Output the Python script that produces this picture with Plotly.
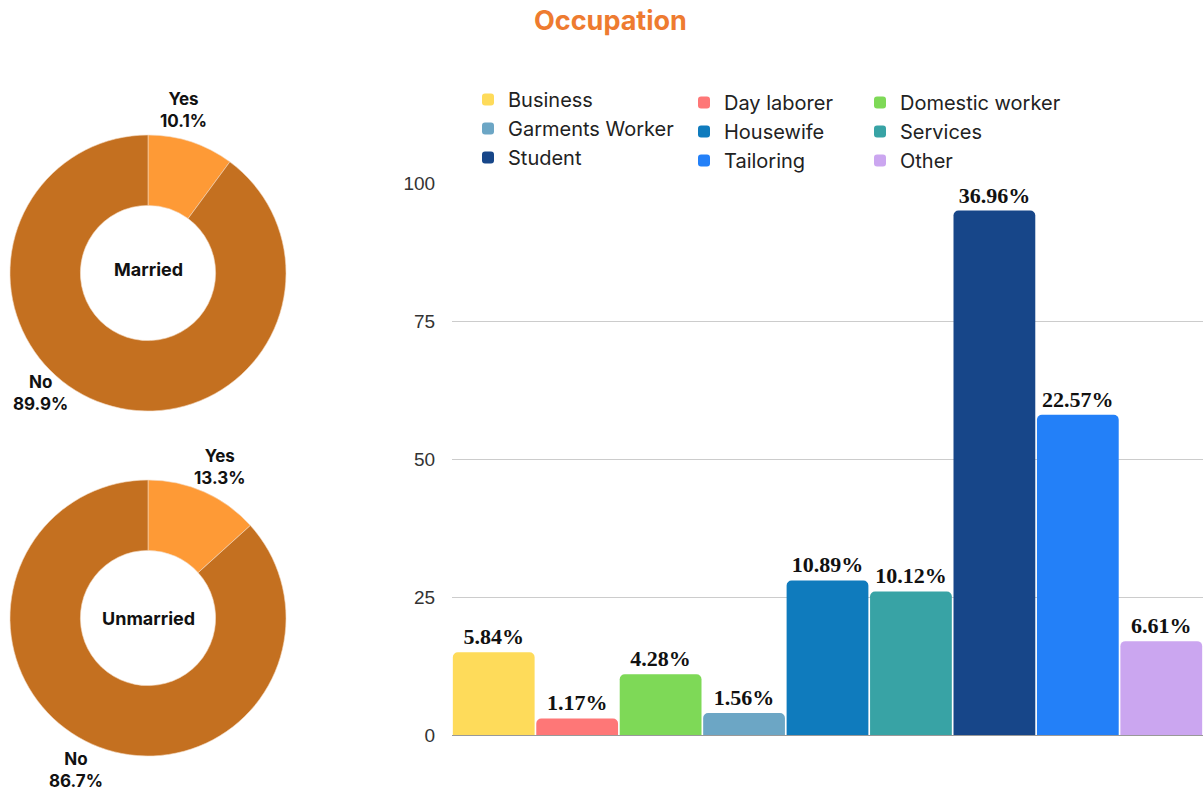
import plotly.graph_objects as go

# ---- data ----
occupations = ["Business", "Day laborer", "Domestic worker", "Garments Worker",
               "Housewife", "Services", "Student", "Tailoring", "Other"]
counts = [15, 3, 11, 4, 28, 26, 95, 58, 17]
percent_labels = ["5.84%", "1.17%", "4.28%", "1.56%", "10.89%", "10.12%",
                  "36.96%", "22.57%", "6.61%"]
bar_colors = ["#FEDB5A", "#FE7777", "#7ED957", "#6CA6C5", "#0F7BBD",
              "#38A3A5", "#174689", "#2380F8", "#CBA6F0"]
legend_column = ["legend", "legend2", "legend3", "legend", "legend2",
                 "legend3", "legend", "legend2", "legend3"]
y_ticks = [0, 25, 50, 75, 100]

pie_labels = ["Yes", "No"]
married_values = [10.1, 89.9]
unmarried_values = [13.3, 86.7]
pie_colors = ["#FE9A36", "#C47020"]

W, H = 1203, 792


def px_x(x):
    return x / W


def px_y(y):
    return 1 - y / H


fig = go.Figure()

for name, c, txt, col, lg in zip(occupations, counts, percent_labels, bar_colors, legend_column):
    fig.add_trace(go.Bar(
        x=[name], y=[c], name=name, legend=lg,
        marker=dict(color=col, cornerradius=5, line=dict(width=0)),
        text=[txt], textposition="outside", cliponaxis=False,
        textfont=dict(family="Liberation Serif", size=22, color="#111111", weight="bold"),
        hoverinfo="x+y",
    ))

# Donuts
for vals, (y0, y1) in [(married_values, (135, 411)), (unmarried_values, (480, 756))]:
    fig.add_trace(go.Pie(
        labels=pie_labels, values=vals, hole=0.49, sort=False,
        direction="clockwise", rotation=0,
        marker=dict(colors=pie_colors, line=dict(color="#F3D9BF", width=0.6)),
        textinfo="none", showlegend=False,
        domain=dict(x=[px_x(10), px_x(286)], y=[px_y(y1), px_y(y0)]),
    ))

annotations = []
lab_font = dict(family="Inter", size=17, color="#111111", weight="bold")
pie_text = [
    (f"{pie_labels[0]}<br>{married_values[0]}%", 183, 110),
    (f"{pie_labels[1]}<br>{married_values[1]}%", 40, 393),
    (f"{pie_labels[0]}<br>{unmarried_values[0]}%", 219, 467),
    (f"{pie_labels[1]}<br>{unmarried_values[1]}%", 76, 770),
]
for t, x, y in pie_text:
    annotations.append(dict(text=t, x=px_x(x), y=px_y(y), xref="paper", yref="paper",
                            xanchor="center", yanchor="middle",
                            showarrow=False, font=lab_font, align="center"))
center_font = dict(family="Inter", size=18, color="#111111", weight="bold")
annotations.append(dict(text="Married", x=px_x(148), y=px_y(270), xref="paper", yref="paper",
                        xanchor="center", yanchor="middle", showarrow=False, font=center_font))
annotations.append(dict(text="Unmarried", x=px_x(148), y=px_y(618), xref="paper", yref="paper",
                        xanchor="center", yanchor="middle", showarrow=False, font=center_font))
annotations.append(dict(text="Occupation", x=px_x(610), y=px_y(21), xref="paper", yref="paper",
                        xanchor="center", yanchor="middle", showarrow=False,
                        font=dict(family="Inter", size=27, color="#EE7B30", weight="bold")))

leg_font = dict(family="Inter", size=20, color="#222222")
leg_common = dict(orientation="v", yanchor="top", xanchor="left", bgcolor="rgba(0,0,0,0)",
                  font=leg_font, itemwidth=30, tracegroupgap=0)

fig.update_layout(
    width=W, height=H,
    margin=dict(l=0, r=0, t=0, b=0, autoexpand=False),
    paper_bgcolor="white", plot_bgcolor="white",
    barmode="overlay", bargap=0.02,
    annotations=annotations,
    legend=dict(x=px_x(468), y=px_y(80), **leg_common),
    legend2=dict(x=px_x(684), y=px_y(83), **leg_common),
    legend3=dict(x=px_x(860), y=px_y(83), **leg_common),
    xaxis=dict(domain=[px_x(452), 1], showticklabels=False, showgrid=False,
               showline=True, linecolor="#999999", linewidth=1, zeroline=False,
               categoryorder="array", categoryarray=occupations),
    yaxis=dict(domain=[px_y(735), px_y(183)], range=[0, 100], tickvals=y_ticks,
               showgrid=True, gridcolor="#CCCCCC", gridwidth=1, zeroline=False,
               showline=False, ticks="outside", ticklen=12, tickcolor="rgba(0,0,0,0)",
               tickfont=dict(family="Liberation Sans", size=19, color="#333333")),
)

fig.write_html("out.html", config={"displayModeBar": False},
               post_script="document.body.style.margin='0';document.body.style.overflow='hidden';")
